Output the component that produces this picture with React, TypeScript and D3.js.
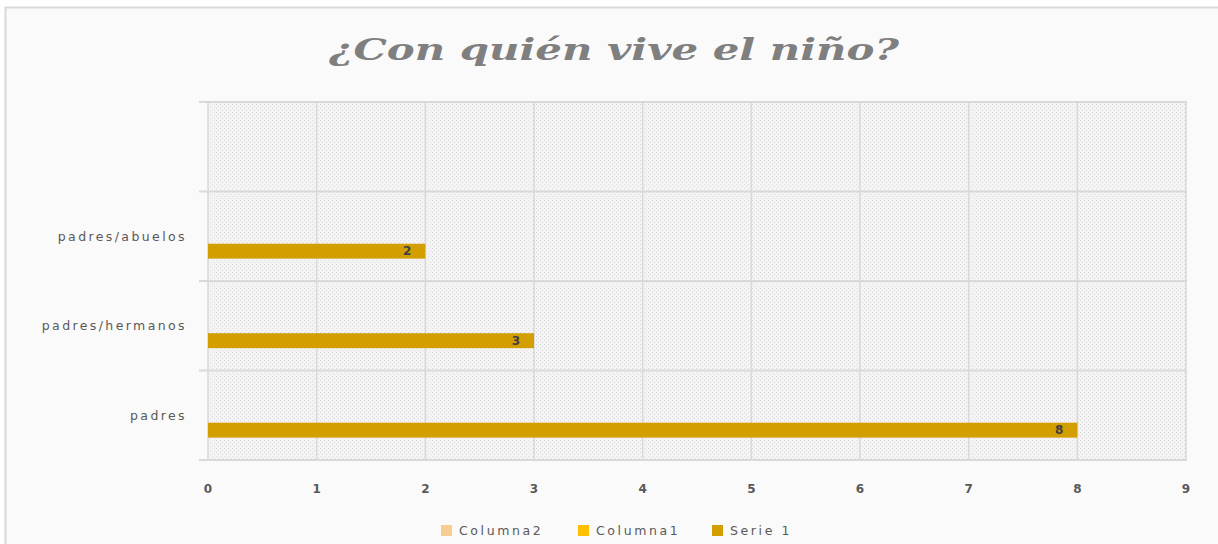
import React from "react";
import * as d3 from "d3";

const categories = ["padres", "padres/hermanos", "padres/abuelos", ""];
const serie1 = [8, 3, 2, null];
const seriesNames = ["Columna2", "Columna1", "Serie 1"];
const seriesColors = ["#f8cd94", "#ffc000", "#d29e00"];
const xTicks = [0, 1, 2, 3, 4, 5, 6, 7, 8, 9];
const title = "¿Con quién vive el niño?";

const W = 1218;
const H = 544;
const plot = { left: 208, right: 1186, top: 102, bottom: 460 };

export default function App() {
  const x = d3.scaleLinear().domain([0, 9]).range([plot.left, plot.right]);
  const y = d3
    .scaleBand<string>()
    .domain([...categories].reverse())
    .range([plot.top, plot.bottom])
    .padding(0);
  const inner = d3
    .scaleBand<string>()
    .domain(seriesNames)
    .range([0, y.bandwidth()])
    .paddingInner(0)
    .paddingOuter(1.5);

  const labelFont = "'DejaVu Sans', Verdana, sans-serif";
  const bandEdges = [...y.domain().map((c) => y(c) as number), plot.bottom];

  return (
    <svg
      width={W}
      height={H}
      style={{ position: "absolute", left: 0, top: 0, display: "block" }}
    >
      <defs>
        <pattern id="dots" width="4" height="4" patternUnits="userSpaceOnUse">
          <rect width="4" height="4" fill="#f4f4f4" />
          <rect x="0" y="0" width="1" height="1" fill="#dcdcdc" />
          <rect x="2" y="2" width="1" height="1" fill="#dcdcdc" />
        </pattern>
      </defs>
      <rect x={5.5} y={7.5} width={W} height={H} fill="#fafafa" stroke="#d9d9d9" strokeWidth={2} />

      <text
        x={614}
        y={60}
        textAnchor="middle"
        fontFamily="'DejaVu Serif', serif"
        fontStyle="italic"
        fontWeight="bold"
        fontSize={29}
        fill="#7f7f7f"
        textLength={570}
        lengthAdjust="spacingAndGlyphs"
      >
        {title}
      </text>

      <rect
        x={plot.left}
        y={plot.top}
        width={plot.right - plot.left}
        height={plot.bottom - plot.top}
        fill="url(#dots)"
      />

      {xTicks.map((t) => (
        <line
          key={"v" + t}
          x1={x(t)}
          x2={x(t)}
          y1={plot.top}
          y2={plot.bottom}
          stroke="#d9d9d9"
          strokeWidth={1.5}
        />
      ))}
      {bandEdges.map((e, i) => (
        <line
          key={"h" + i}
          x1={plot.left - 9}
          x2={plot.right + 1}
          y1={e}
          y2={e}
          stroke="#d9d9d9"
          strokeWidth={2}
        />
      ))}

      {categories.map((c, i) =>
        serie1[i] == null ? null : (
          <g key={"b" + c}>
            <rect
              x={x(0)}
              y={(y(c) as number) + (inner("Serie 1") as number)}
              width={x(serie1[i] as number) - x(0)}
              height={inner.bandwidth()}
              fill={seriesColors[2]}
            />
            <text
              x={x(serie1[i] as number) - 14}
              y={(y(c) as number) + (inner("Serie 1") as number) + inner.bandwidth() / 2}
              dy="0.36em"
              textAnchor="end"
              fontFamily={labelFont}
              fontSize={12}
              fontWeight="bold"
              fill="#404040"
            >
              {serie1[i]}
            </text>
          </g>
        )
      )}

      {categories.map((c) => (
        <text
          key={"c" + c}
          x={187}
          y={(y(c) as number) + y.bandwidth() / 2}
          dy="0.35em"
          textAnchor="end"
          fontFamily={labelFont}
          fontSize={12.5}
          letterSpacing={2.4}
          fill="#595959"
        >
          {c}
        </text>
      ))}

      {xTicks.map((t) => (
        <text
          key={"t" + t}
          x={x(t)}
          y={489}
          dy="0.35em"
          textAnchor="middle"
          fontFamily={labelFont}
          fontSize={12}
          fontWeight="bold"
          fill="#595959"
        >
          {t}
        </text>
      ))}

      {seriesNames.map((s, i) => {
        const lx = [441, 578, 712][i];
        return (
          <g key={"l" + s}>
            <rect x={lx} y={525} width={11} height={11} fill={seriesColors[i]} />
            <text
              x={lx + 18}
              y={531}
              dy="0.35em"
              fontFamily={labelFont}
              fontSize={12.5}
              letterSpacing={2.6}
              fill="#595959"
            >
              {s}
            </text>
          </g>
        );
      })}
    </svg>
  );
}
